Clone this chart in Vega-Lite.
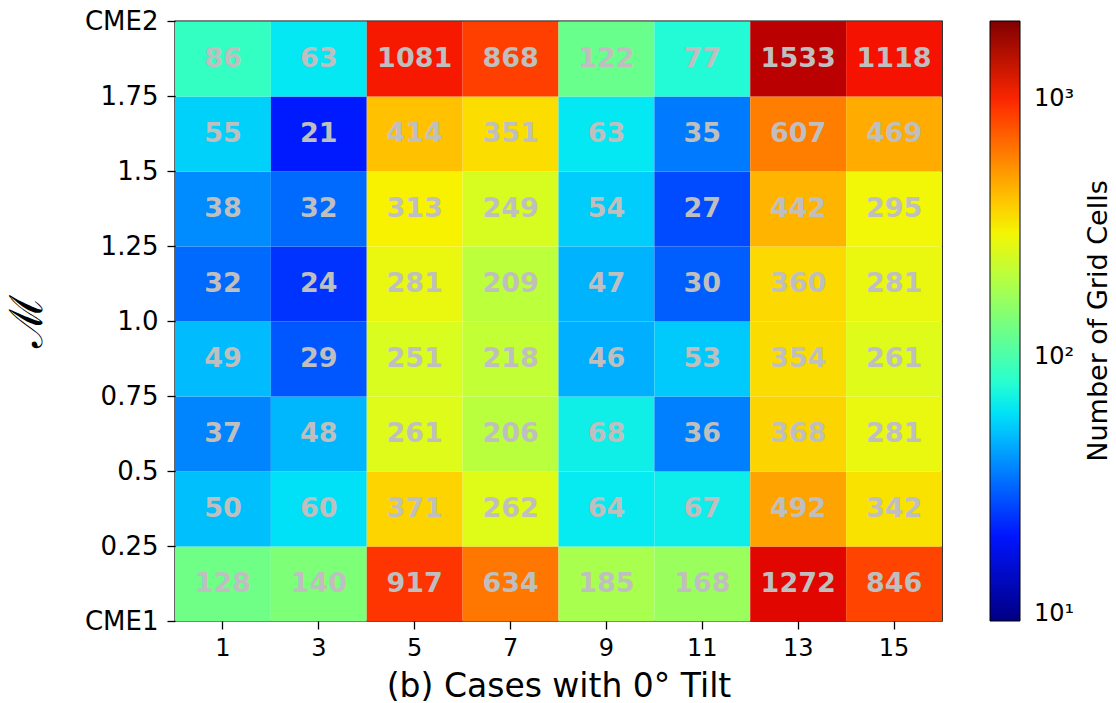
{
  "$schema": "https://vega.github.io/schema/vega-lite/v6.json",
  "width": 767,
  "height": 600,
  "autosize": {"type": "none"},
  "padding": {"left": 175, "top": 21, "right": 174, "bottom": 82},
  "background": "white",
  "config": {
    "font": "DejaVu Sans",
    "view": {"stroke": "black", "strokeWidth": 1.4},
    "axis": {
      "domain": false,
      "grid": false,
      "tickColor": "black",
      "tickWidth": 1.3,
      "tickSize": 8,
      "labelColor": "black",
      "labelFontSize": 24,
      "titleColor": "black",
      "titleFontWeight": "normal"
    }
  },
  "data": {
    "values": [
      {"case": 1, "m_lo": 0, "m_hi": 0.25, "cells": 128},
      {"case": 3, "m_lo": 0, "m_hi": 0.25, "cells": 140},
      {"case": 5, "m_lo": 0, "m_hi": 0.25, "cells": 917},
      {"case": 7, "m_lo": 0, "m_hi": 0.25, "cells": 634},
      {"case": 9, "m_lo": 0, "m_hi": 0.25, "cells": 185},
      {"case": 11, "m_lo": 0, "m_hi": 0.25, "cells": 168},
      {"case": 13, "m_lo": 0, "m_hi": 0.25, "cells": 1272},
      {"case": 15, "m_lo": 0, "m_hi": 0.25, "cells": 846},
      {"case": 1, "m_lo": 0.25, "m_hi": 0.5, "cells": 50},
      {"case": 3, "m_lo": 0.25, "m_hi": 0.5, "cells": 60},
      {"case": 5, "m_lo": 0.25, "m_hi": 0.5, "cells": 371},
      {"case": 7, "m_lo": 0.25, "m_hi": 0.5, "cells": 262},
      {"case": 9, "m_lo": 0.25, "m_hi": 0.5, "cells": 64},
      {"case": 11, "m_lo": 0.25, "m_hi": 0.5, "cells": 67},
      {"case": 13, "m_lo": 0.25, "m_hi": 0.5, "cells": 492},
      {"case": 15, "m_lo": 0.25, "m_hi": 0.5, "cells": 342},
      {"case": 1, "m_lo": 0.5, "m_hi": 0.75, "cells": 37},
      {"case": 3, "m_lo": 0.5, "m_hi": 0.75, "cells": 48},
      {"case": 5, "m_lo": 0.5, "m_hi": 0.75, "cells": 261},
      {"case": 7, "m_lo": 0.5, "m_hi": 0.75, "cells": 206},
      {"case": 9, "m_lo": 0.5, "m_hi": 0.75, "cells": 68},
      {"case": 11, "m_lo": 0.5, "m_hi": 0.75, "cells": 36},
      {"case": 13, "m_lo": 0.5, "m_hi": 0.75, "cells": 368},
      {"case": 15, "m_lo": 0.5, "m_hi": 0.75, "cells": 281},
      {"case": 1, "m_lo": 0.75, "m_hi": 1.0, "cells": 49},
      {"case": 3, "m_lo": 0.75, "m_hi": 1.0, "cells": 29},
      {"case": 5, "m_lo": 0.75, "m_hi": 1.0, "cells": 251},
      {"case": 7, "m_lo": 0.75, "m_hi": 1.0, "cells": 218},
      {"case": 9, "m_lo": 0.75, "m_hi": 1.0, "cells": 46},
      {"case": 11, "m_lo": 0.75, "m_hi": 1.0, "cells": 53},
      {"case": 13, "m_lo": 0.75, "m_hi": 1.0, "cells": 354},
      {"case": 15, "m_lo": 0.75, "m_hi": 1.0, "cells": 261},
      {"case": 1, "m_lo": 1.0, "m_hi": 1.25, "cells": 32},
      {"case": 3, "m_lo": 1.0, "m_hi": 1.25, "cells": 24},
      {"case": 5, "m_lo": 1.0, "m_hi": 1.25, "cells": 281},
      {"case": 7, "m_lo": 1.0, "m_hi": 1.25, "cells": 209},
      {"case": 9, "m_lo": 1.0, "m_hi": 1.25, "cells": 47},
      {"case": 11, "m_lo": 1.0, "m_hi": 1.25, "cells": 30},
      {"case": 13, "m_lo": 1.0, "m_hi": 1.25, "cells": 360},
      {"case": 15, "m_lo": 1.0, "m_hi": 1.25, "cells": 281},
      {"case": 1, "m_lo": 1.25, "m_hi": 1.5, "cells": 38},
      {"case": 3, "m_lo": 1.25, "m_hi": 1.5, "cells": 32},
      {"case": 5, "m_lo": 1.25, "m_hi": 1.5, "cells": 313},
      {"case": 7, "m_lo": 1.25, "m_hi": 1.5, "cells": 249},
      {"case": 9, "m_lo": 1.25, "m_hi": 1.5, "cells": 54},
      {"case": 11, "m_lo": 1.25, "m_hi": 1.5, "cells": 27},
      {"case": 13, "m_lo": 1.25, "m_hi": 1.5, "cells": 442},
      {"case": 15, "m_lo": 1.25, "m_hi": 1.5, "cells": 295},
      {"case": 1, "m_lo": 1.5, "m_hi": 1.75, "cells": 55},
      {"case": 3, "m_lo": 1.5, "m_hi": 1.75, "cells": 21},
      {"case": 5, "m_lo": 1.5, "m_hi": 1.75, "cells": 414},
      {"case": 7, "m_lo": 1.5, "m_hi": 1.75, "cells": 351},
      {"case": 9, "m_lo": 1.5, "m_hi": 1.75, "cells": 63},
      {"case": 11, "m_lo": 1.5, "m_hi": 1.75, "cells": 35},
      {"case": 13, "m_lo": 1.5, "m_hi": 1.75, "cells": 607},
      {"case": 15, "m_lo": 1.5, "m_hi": 1.75, "cells": 469},
      {"case": 1, "m_lo": 1.75, "m_hi": 2.0, "cells": 86},
      {"case": 3, "m_lo": 1.75, "m_hi": 2.0, "cells": 63},
      {"case": 5, "m_lo": 1.75, "m_hi": 2.0, "cells": 1081},
      {"case": 7, "m_lo": 1.75, "m_hi": 2.0, "cells": 868},
      {"case": 9, "m_lo": 1.75, "m_hi": 2.0, "cells": 122},
      {"case": 11, "m_lo": 1.75, "m_hi": 2.0, "cells": 77},
      {"case": 13, "m_lo": 1.75, "m_hi": 2.0, "cells": 1533},
      {"case": 15, "m_lo": 1.75, "m_hi": 2.0, "cells": 1118}
    ]
  },
  "encoding": {
    "x": {
      "field": "case",
      "type": "ordinal",
      "sort": "ascending",
      "scale": {"paddingInner": 0, "paddingOuter": 0},
      "axis": {
        "title": "(b) Cases with 0° Tilt",
        "titleFontSize": 33,
        "titlePadding": 10,
        "labelAngle": 0,
        "labelPadding": 7
      }
    }
  },
  "layer": [
    {
      "mark": {"type": "rect", "strokeWidth": 0},
      "encoding": {
        "y": {
          "field": "m_lo",
          "type": "quantitative",
          "bin": {"binned": true},
          "scale": {"domain": [0, 2], "nice": false, "zero": false},
          "axis": {
            "title": "ℳ",
            "titleFontSize": 46,
            "titleFont": "DejaVu Serif",
            "titlePadding": 33,
            "values": [0, 0.25, 0.5, 0.75, 1, 1.25, 1.5, 1.75, 2],
            "format": ".3~g",
            "labelExpr": "datum.value == 0 ? 'CME1' : datum.value == 2 ? 'CME2' : datum.value == 1 ? '1.0' : datum.label",
            "labelFontSize": 26,
            "labelPadding": 9
          }
        },
        "y2": {"field": "m_hi"},
        "color": {
          "field": "cells",
          "type": "quantitative",
          "title": "Number of Grid Cells",
          "scale": {
            "type": "log",
            "domain": [9.4, 2010],
            "interpolate": "rgb",
            "range": ["#000080", "#0000b9", "#0000f3", "#001aff", "#004dff", "#0080ff", "#00b3ff", "#00e6f7", "#29ffce", "#52ffa4", "#7bff7b", "#a4ff52", "#ceff29", "#f7f500", "#ffc600", "#ff9700", "#ff6800", "#ff3900", "#f30900", "#b90000", "#800000"]
          },
          "legend": {
            "orient": "right",
            "offset": 48,
            "padding": 0,
            "direction": "vertical",
            "gradientLength": 600,
            "gradientThickness": 30,
            "gradientStrokeColor": "black",
            "gradientStrokeWidth": 1,
            "values": [10, 100, 1000],
            "labelExpr": "datum.value == 10 ? '10¹' : datum.value == 100 ? '10²' : '10³'",
            "labelFontSize": 24,
            "labelColor": "black",
            "labelOffset": 14,
            "titleFontSize": 27,
            "titleFontWeight": "normal",
            "titleColor": "black",
            "titleOrient": "right",
            "titleAnchor": "middle",
            "titleLimit": 800,
            "titlePadding": 12,
            "encode": {"title": {"update": {"angle": {"value": 270}, "baseline": {"value": "top"}}}}
          }
        }
      }
    },
    {
      "mark": {"type": "text", "fontWeight": "bold", "fontSize": 27, "color": "#bfbfbf", "baseline": "middle"},
      "encoding": {
        "y": {
          "field": "m_lo",
          "type": "ordinal",
          "sort": "descending",
          "scale": {"paddingInner": 0, "paddingOuter": 0},
          "axis": null
        },
        "text": {"field": "cells", "type": "quantitative"}
      }
    }
  ],
  "resolve": {"scale": {"y": "independent"}, "axis": {"y": "independent"}}
}
